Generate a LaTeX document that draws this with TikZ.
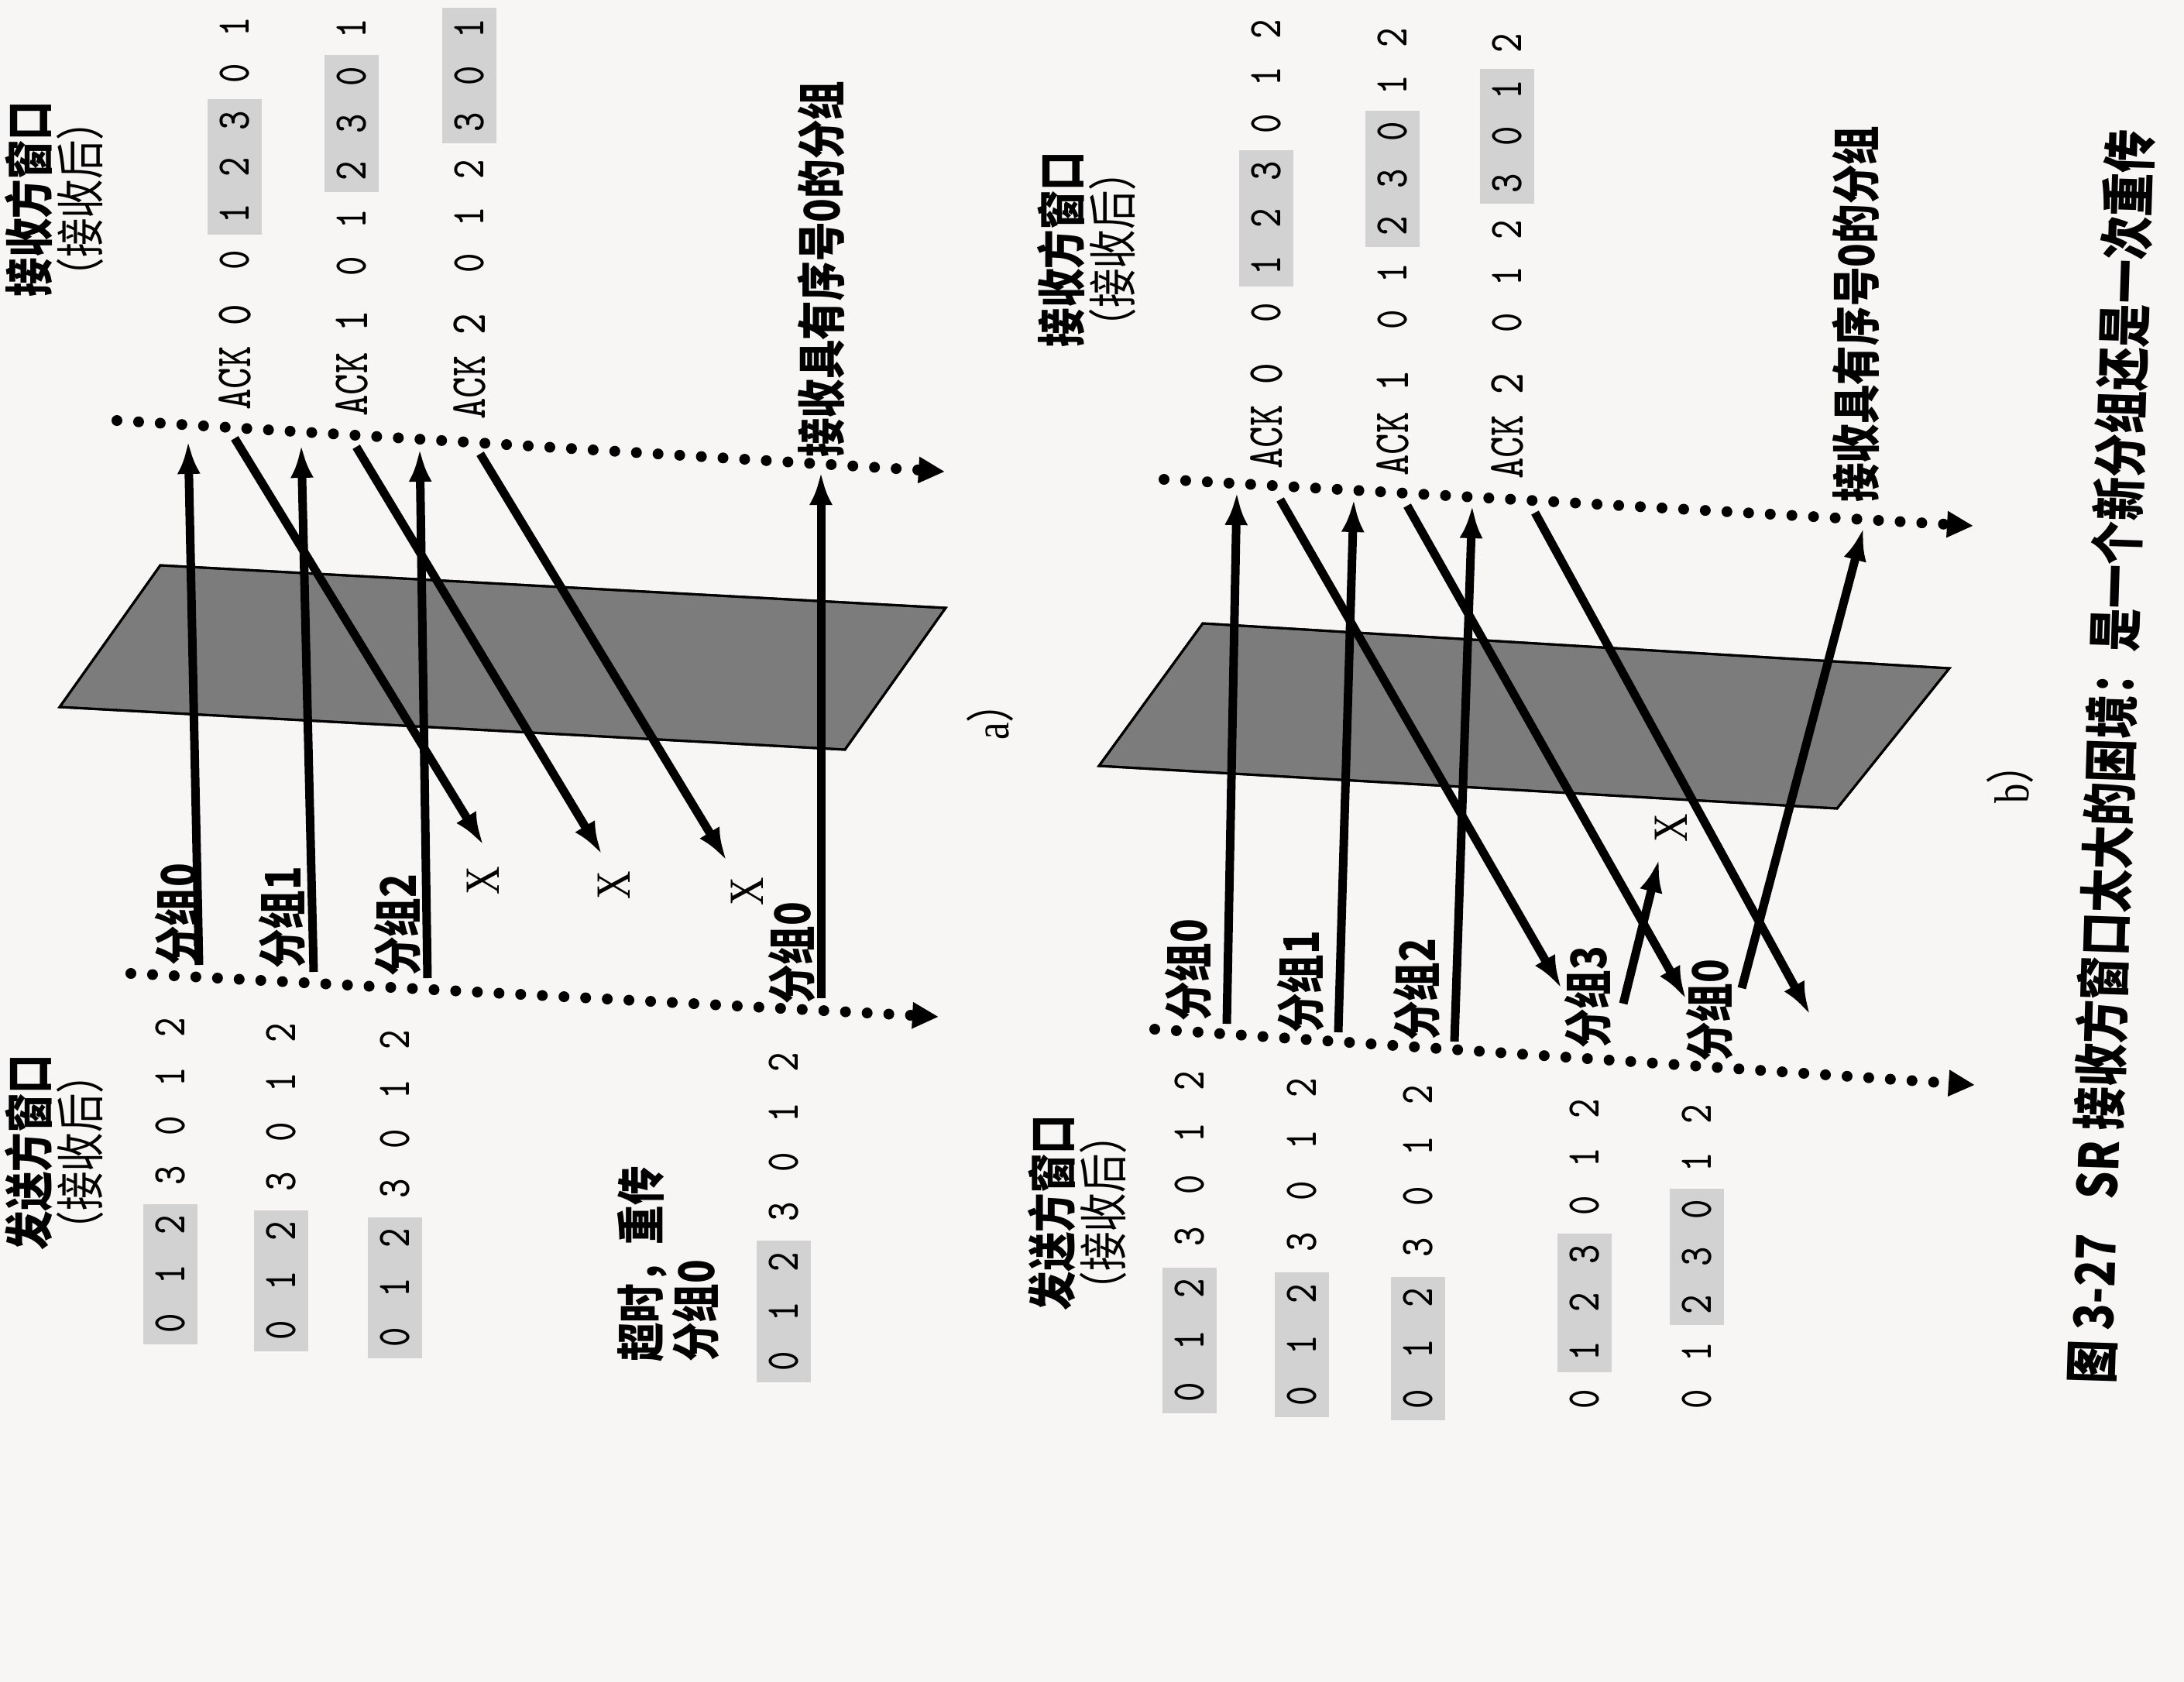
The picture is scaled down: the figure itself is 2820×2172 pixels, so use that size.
\documentclass[tikz,border=0pt]{standalone}
\usepackage{fontspec}
\setmainfont{Liberation Serif}
\newfontfamily\cjk{Noto Sans CJK SC}
\usetikzlibrary{arrows.meta}

\definecolor{paper}{RGB}{248,245,245}
\definecolor{curtain}{RGB}{124,124,124}
\definecolor{winshade}{RGB}{210,210,210}

\begin{document}
\begin{tikzpicture}[
    x=0.05mm, y=-0.05mm,
    vtext/.style={rotate=90, xscale=0.8, inner sep=0pt},
    cjk label/.style={vtext, anchor=west, font=\cjk\bfseries\fontsize{9}{9}\selectfont},
    win label/.style={vtext, align=center, font=\cjk\fontsize{9}{9.3}\selectfont},
    digit/.style={vtext, font=\ttfamily\fontsize{8.6}{8.6}\selectfont},
    ack label/.style={vtext, anchor=west, font=\ttfamily\fontsize{9.3}{9.3}\selectfont},
    lost/.style={vtext, font=\fontsize{9}{9}\selectfont},
    timeline/.style={line width=0.7mm, line cap=round, dash pattern=on 0pt off 1.4mm,
        -{Triangle[length=1.7mm, width=1.6mm]}},
    pkt/.style={line width=0.55mm, -{Latex[length=2.1mm, width=1.5mm]}},
    curtain/.style={fill=curtain, draw=black, line width=0.15mm}
]
    \useasboundingbox (0,0) rectangle (2820,2172);
    \fill[paper] (0,0) rectangle (2820,2172);

    % --- lossy channel ---
    \fill[curtain] (207,730) -- (1221,785) -- (1091,968) -- (77,913) -- cycle;
    \fill[curtain] (1553,805) -- (2517,863) -- (2372,1044) -- (1419,989) -- cycle;
    \draw[curtain, fill=none] (207,730) -- (1221,785) -- (1091,968) -- (77,913) -- cycle;
    \draw[curtain, fill=none] (1553,805) -- (2517,863) -- (2372,1044) -- (1419,989) -- cycle;

    % --- time lines ---
    \coordinate (aRstart) at (151,543);  \coordinate (aRend) at (1220,609);
    \coordinate (aSstart) at (169,1257); \coordinate (aSend) at (1212,1313);
    \coordinate (bRstart) at (1503,619); \coordinate (bRend) at (2548,679);
    \coordinate (bSstart) at (1491,1329); \coordinate (bSend) at (2550,1401);
    \draw[timeline] (aRstart) -- (aRend);
    \draw[timeline] (aSstart) -- (aSend);
    \draw[timeline] (bRstart) -- (bRend);
    \draw[timeline] (bSstart) -- (bSend);

    % --- windows: name / x / y of first digit / pitch / shaded from / to ---
    \foreach \r/\x/\y/\p/\a/\b in {
        as1/220/1709/63.7/0/2, as2/363/1718/64/0/2, as3/510/1727/64/0/2,
        as4/1012/1758/64.3/0/2,
        bs1/1536/1798/67/0/2, bs2/1681/1803/66.3/0/2, bs3/1831/1807/65.5/0/2,
        bs4/2046/1807/62.5/1/3, bs5/2191/1807/61.3/2/4,
        ar1/303/336/60.2/1/3, ar2/454/344/61.4/2/4, ar3/606/340/60.6/3/5,
        br1/1635/404/61/1/3, br2/1798/413/60.7/2/4, br3/1946/417/60.2/3/5}{
        \fill[winshade] (\x-35,\y-\a*\p+27) rectangle (\x+35,\y-\b*\p-27);
        \foreach \d [count=\i from 0] in {0,1,2,3,0,1,2}
            \node[digit] (\r-\i) at (\x,\y-\i*\p) {\d};
    }

    \node[win label] (asTitle) at (70,1488) {{\bfseries 发送方窗口}\\（接收后）};
    \node[win label] (arTitle) at (70,257) {{\bfseries 接收方窗口}\\（接收后）};
    \node[win label] (bsTitle) at (1391,1566) {{\bfseries 发送方窗口}\\（接收后）};
    \node[win label] (brTitle) at (1403,322) {{\bfseries 接收方窗口}\\（接收后）};

    % --- a) ---
    \foreach \n/\sx/\sy/\rx/\ry in {0/257/1246/243/570, 1/405/1255/389/575,
        2/552/1263/542/580, 3/1060/1289/1060/610}{
        \coordinate (aP\n) at (\sx,\sy);
        \coordinate (aQ\n) at (\rx,\ry);
        \draw[pkt] (aP\n) -- (aQ\n);
    }
    \foreach \n/\rx/\ry/\sx/\sy in {0/303/566/624/1091, 1/460/577/777/1103,
        2/620/586/938/1111}{
        \coordinate (aA\n) at (\rx,\ry);
        \coordinate (aB\n) at (\sx,\sy);
        \draw[pkt] (aA\n) -- (aB\n);
    }
    \node[cjk label] (apkt0) at (230,1248) {分组0};
    \node[cjk label] (apkt1) at (364,1252) {分组1};
    \node[cjk label] (apkt2) at (513,1262) {分组2};
    \node[cjk label] (apkt3) at (1022,1298) {分组0};
    \node[cjk label, align=left] (timeout) at (863,1760) {超时，重传\\分组0};
    \node[cjk label] (arecv) at (1060,592) {接收具有序号0的分组};
    \node[ack label] (aack0) at (303,531) {ACK 0};
    \node[ack label] (aack1) at (454,539) {ACK 1};
    \node[ack label] (aack2) at (606,543) {ACK 2};
    \node[lost] (ax0) at (624,1137) {X};
    \node[lost] (ax1) at (793,1143) {X};
    \node[lost] (ax2) at (965,1151) {X};
    \node[vtext, font=\fontsize{9}{9}\selectfont] (atag) at (1278,919) {a{\cjk ）}};

    % --- b) ---
    \foreach \n/\sx/\sy/\rx/\ry in {0/1584/1322/1597/636, 1/1728/1333/1748/645,
        2/1878/1345/1901/653, 3/2096/1296/2142/1110, 4/2249/1276/2406/682}{
        \coordinate (bP\n) at (\sx,\sy);
        \coordinate (bQ\n) at (\rx,\ry);
        \draw[pkt] (bP\n) -- (bQ\n);
    }
    \foreach \n/\rx/\ry/\sx/\sy in {0/1653/645/2016/1276, 1/1817/653/2177/1290,
        2/1982/662/2337/1310}{
        \coordinate (bA\n) at (\rx,\ry);
        \coordinate (bB\n) at (\sx,\sy);
        \draw[pkt] (bA\n) -- (bB\n);
    }
    \node[cjk label] (bpkt0) at (1534,1320) {分组0};
    \node[cjk label] (bpkt1) at (1679,1335) {分组1};
    \node[cjk label] (bpkt2) at (1829,1345) {分组2};
    \node[cjk label] (bpkt3) at (2050,1355) {分组3};
    \node[cjk label] (bpkt4) at (2207,1372) {分组0};
    \node[cjk label] (brecv) at (2396,650) {接收具有序号0的分组};
    \node[ack label] (back0) at (1635,607) {ACK 0};
    \node[ack label] (back1) at (1798,616) {ACK 1};
    \node[ack label] (back2) at (1946,620) {ACK 2};
    \node[lost] (bx0) at (2158,1069) {X};
    \node[vtext, font=\fontsize{9}{9}\selectfont] (btag) at (2595,1000) {b{\cjk ）}};

    % --- caption ---
    \node[rotate=88.2, xscale=0.8, inner sep=0pt, font=\cjk\bfseries\fontsize{10}{10}\selectfont]
        (caption) at (2725,977) {图 3-27\hspace{0.8em}SR 接收方窗口太大的困境：是一个新分组还是一次重传};
\end{tikzpicture}
\end{document}
